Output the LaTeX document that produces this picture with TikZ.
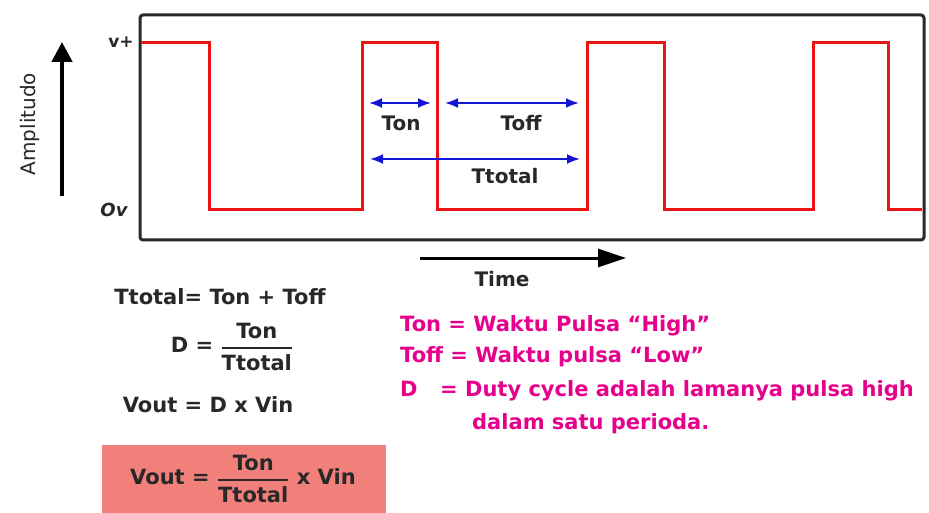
\documentclass[tikz,border=0pt]{standalone}
\usepackage{fontspec}
\setmainfont{DejaVu Sans}
\usetikzlibrary{arrows.meta}
\definecolor{wave}{RGB}{235,20,20}
\definecolor{frm}{RGB}{40,40,40}
\definecolor{arr}{RGB}{20,20,215}
\definecolor{mag}{RGB}{230,0,140}
\definecolor{boxfill}{RGB}{242,128,122}
\definecolor{txt}{RGB}{40,40,40}
\newcommand{\myfrac}[2]{$\displaystyle{\mbox{#1}\above 1.8pt\mbox{#2}}$}
\tikzset{
  lbl/.style={font=\bfseries\fontsize{20}{22}\selectfont, text=txt, inner sep=0pt},
  eq/.style={font=\bfseries\fontsize{21}{23}\selectfont, text=txt, inner sep=0pt},
  desc/.style={font=\bfseries\fontsize{21}{23}\selectfont, text=mag, inner sep=0pt, anchor=base west},
  dim/.style={arr, line width=2pt, {Latex[length=13pt,width=10pt]}-{Latex[length=13pt,width=10pt]}},
  bigarrow/.style={line width=4.5pt, -{Triangle[length=20pt,width=20pt]}, black}
}
\begin{document}
\begin{tikzpicture}[x=1pt,y=-1pt]
\useasboundingbox (0,0) rectangle (929,513);
\fill[white] (0,0) rectangle (929,513);
% frame
\draw[frm, line width=3pt, rounded corners=3pt] (140,15) rectangle (924,240);
% waveform
\draw[wave, line width=3pt] (141,43) -- (209,43) -- (209,210) -- (362,210) -- (362,43) -- (437,43) -- (437,210) -- (587,210) -- (587,43) -- (664,43) -- (664,210) -- (813,210) -- (813,43) -- (888,43) -- (888,210) -- (922,210);
% dimension coordinates
\coordinate (on1) at (369,103);
\coordinate (on2) at (431,103);
\coordinate (off1) at (445,103);
\coordinate (off2) at (579,103);
\coordinate (tt1) at (370,159);
\coordinate (tt2) at (580,159);
\draw[dim] (on1) -- (on2);
\draw[dim] (off1) -- (off2);
\draw[dim] (tt1) -- (tt2);
\node[lbl] (ton) at (401,123) {Ton};
\node[lbl] (toff) at (521,123) {Toff};
\node[lbl] (ttot) at (505,176) {Ttotal};
% axes
\coordinate (a1) at (62,196);
\coordinate (a2) at (62,42);
\draw[bigarrow] (a1) -- (a2);
\node[lbl, font=\fontsize{20}{22}\selectfont, rotate=90] (amp) at (30,124) {Amplitudo};
\node[lbl, font=\bfseries\fontsize{17}{19}\selectfont] (vp) at (121,42) {v+};
\node[lbl, font=\itshape\bfseries\fontsize{18}{20}\selectfont] (ov) at (114,210) {Ov};
\coordinate (t1) at (420,258);
\coordinate (t2) at (626,258);
\draw[line width=3pt, -{Triangle[length=28pt,width=18pt]}, black] (t1) -- (t2);
\node[lbl] (time) at (502,279) {Time};
% formulas
\node[eq] (f1) at (220,297) {Ttotal= Ton + Toff};
\node[eq] (f2) at (232,347) {D = \myfrac{Ton}{Ttotal}};
\node[eq] (f3) at (208,405) {Vout = D x Vin};
\fill[boxfill] (102,445) rectangle (386,513);
\node[eq] (f4) at (243,479) {Vout = \myfrac{Ton}{Ttotal} x Vin};
% descriptions
\node[desc] (d1) at (400,331) {Ton = Waktu Pulsa “High”};
\node[desc] (d2) at (400,362) {Toff = Waktu pulsa “Low”};
\node[desc] (d3) at (400,396) {D};
\node[desc] (d4) at (440,396) {= Duty cycle adalah lamanya pulsa high};
\node[desc] (d5) at (472,429) {dalam satu perioda.};
\end{tikzpicture}
\end{document}
